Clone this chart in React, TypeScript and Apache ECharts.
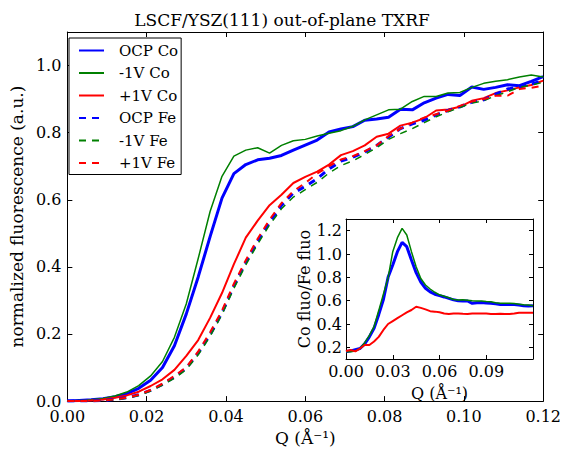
import React, { useEffect, useRef } from 'react';
import * as echarts from 'echarts';

// Shared Q grid (Å^-1)
const Q = [0, 0.003, 0.006, 0.009, 0.012, 0.015, 0.018, 0.021, 0.024, 0.027, 0.03, 0.033, 0.036, 0.039, 0.042, 0.045, 0.048, 0.051, 0.054, 0.057, 0.06, 0.063, 0.066, 0.069, 0.072, 0.075, 0.078, 0.081, 0.084, 0.087, 0.09, 0.093, 0.096, 0.099, 0.102, 0.105, 0.108, 0.111, 0.114, 0.117, 0.12];

// Main plot: normalized fluorescence
const ocpCo = [0, 0.002, 0.004, 0.007, 0.013, 0.022, 0.038, 0.062, 0.1, 0.165, 0.26, 0.37, 0.49, 0.605, 0.678, 0.705, 0.719, 0.724, 0.732, 0.748, 0.763, 0.778, 0.802, 0.811, 0.818, 0.837, 0.841, 0.846, 0.87, 0.868, 0.889, 0.903, 0.914, 0.911, 0.936, 0.929, 0.935, 0.943, 0.94, 0.953, 0.967];
const m1vCo = [0, 0.002, 0.004, 0.008, 0.015, 0.027, 0.046, 0.075, 0.118, 0.19, 0.29, 0.425, 0.565, 0.67, 0.73, 0.748, 0.755, 0.739, 0.762, 0.776, 0.78, 0.79, 0.798, 0.806, 0.819, 0.838, 0.853, 0.868, 0.87, 0.893, 0.908, 0.908, 0.918, 0.92, 0.935, 0.947, 0.953, 0.958, 0.966, 0.972, 0.966];
const p1vCo = [0, 0, 0.002, 0.005, 0.01, 0.017, 0.028, 0.045, 0.065, 0.093, 0.135, 0.182, 0.248, 0.322, 0.408, 0.487, 0.538, 0.584, 0.615, 0.65, 0.668, 0.684, 0.705, 0.733, 0.745, 0.762, 0.788, 0.797, 0.821, 0.83, 0.843, 0.866, 0.869, 0.877, 0.895, 0.903, 0.918, 0.926, 0.935, 0.942, 0.955];
const ocpFe = [0, 0, 0, 0.002, 0.005, 0.01, 0.019, 0.032, 0.05, 0.072, 0.098, 0.143, 0.198, 0.263, 0.343, 0.413, 0.476, 0.533, 0.583, 0.62, 0.64, 0.663, 0.692, 0.715, 0.727, 0.742, 0.762, 0.787, 0.812, 0.826, 0.837, 0.853, 0.866, 0.877, 0.891, 0.898, 0.915, 0.93, 0.937, 0.945, 0.955];
const m1vFe = [0, 0, 0, 0.002, 0.004, 0.009, 0.017, 0.03, 0.048, 0.068, 0.094, 0.138, 0.193, 0.258, 0.336, 0.406, 0.468, 0.525, 0.573, 0.608, 0.63, 0.652, 0.68, 0.702, 0.716, 0.735, 0.755, 0.78, 0.797, 0.812, 0.83, 0.847, 0.862, 0.875, 0.888, 0.895, 0.91, 0.922, 0.935, 0.942, 0.95];
const p1vFe = [0, 0, 0, 0.002, 0.005, 0.01, 0.019, 0.033, 0.052, 0.075, 0.101, 0.148, 0.205, 0.27, 0.35, 0.42, 0.484, 0.541, 0.59, 0.626, 0.65, 0.678, 0.7, 0.72, 0.73, 0.745, 0.762, 0.79, 0.812, 0.83, 0.845, 0.855, 0.866, 0.88, 0.893, 0.9, 0.91, 0.91, 0.93, 0.934, 0.94];

// Inset: Co fluo / Fe fluo
const ocpRatio = [0.163, 0.17, 0.18, 0.19, 0.23, 0.29, 0.363, 0.48, 0.61, 0.8, 0.906, 1.02, 1.1, 1.063, 0.948, 0.84, 0.76, 0.706, 0.675, 0.655, 0.643, 0.632, 0.62, 0.607, 0.6, 0.598, 0.597, 0.577, 0.583, 0.585, 0.58, 0.577, 0.573, 0.568, 0.568, 0.568, 0.568, 0.562, 0.556, 0.554, 0.557];
const m1vRatio = [0.163, 0.163, 0.168, 0.19, 0.24, 0.3, 0.377, 0.515, 0.656, 0.795, 1.02, 1.14, 1.22, 1.163, 1.02, 0.89, 0.79, 0.734, 0.7, 0.672, 0.65, 0.638, 0.625, 0.61, 0.605, 0.607, 0.604, 0.6, 0.597, 0.597, 0.592, 0.59, 0.583, 0.577, 0.578, 0.577, 0.575, 0.57, 0.565, 0.562, 0.557];
const p1vRatio = [0.168, 0.177, 0.165, 0.19, 0.22, 0.22, 0.25, 0.29, 0.349, 0.4, 0.425, 0.45, 0.475, 0.5, 0.52, 0.548, 0.538, 0.525, 0.51, 0.506, 0.5, 0.49, 0.486, 0.49, 0.491, 0.488, 0.486, 0.49, 0.49, 0.491, 0.489, 0.486, 0.486, 0.488, 0.486, 0.486, 0.49, 0.497, 0.497, 0.497, 0.497];

const mainXTicks = [0, 0.02, 0.04, 0.06, 0.08, 0.1, 0.12];
const mainYTicks = [0, 0.2, 0.4, 0.6, 0.8, 1.0];
const insetXTicks = [0, 0.03, 0.06, 0.09];
const insetYTicks = [0.2, 0.4, 0.6, 0.8, 1.0, 1.2];

const legendNames = ['OCP Co', '-1V Co', '+1V Co', 'OCP Fe', '-1V Fe', '+1V Fe'];

const BLUE = '#0000ff';
const GREEN = '#008000';
const RED = '#ff0000';
const SERIF = '"DejaVu Serif", serif';

const pair = (ys: number[]) => Q.map((q, i) => [q, ys[i]]);

export default function App() {
  const ref = useRef<HTMLDivElement>(null);
  useEffect(() => {
    if (!ref.current) return;
    const chart = echarts.init(ref.current, undefined, { renderer: 'svg' });
    const axLine = { show: true, onZero: false, lineStyle: { color: '#000', width: 1 } };
    const tick = (len: number, custom?: number[]) => ({
      show: true, inside: true, length: len, lineStyle: { color: '#000', width: 1 },
      ...(custom ? { customValues: custom } : {}),
    });
    const lbl = (size: number, digits: number, margin: number, custom?: number[]) => ({
      show: true, color: '#000', fontFamily: SERIF, fontSize: size, margin,
      formatter: (v: number) => v.toFixed(digits),
      ...(custom ? { customValues: custom } : {}),
    });
    const hidden = { show: false };
    const line = (name: string, ys: number[], color: string, width: number, dashed: boolean, xi: number, yi: number) => ({
      type: 'line', name, data: pair(ys), xAxisIndex: xi, yAxisIndex: yi,
      symbol: 'none', showSymbol: false, smooth: false,
      lineStyle: { color, width, type: dashed ? [7, 6] : 'solid' },
      itemStyle: { color },
    });
    chart.setOption({
      animation: false,
      backgroundColor: '#fff',
      title: {
        text: 'LSCF/YSZ(111) out-of-plane TXRF', left: 'center', top: 6,
        textStyle: { fontFamily: SERIF, fontSize: 17, fontWeight: 'normal', color: '#000' },
      },
      legend: {
        orient: 'vertical', left: 69, top: 38, data: legendNames,
        itemWidth: 25, itemHeight: 14, itemGap: 7.5,
        itemStyle: { opacity: 0 },
        padding: [5, 3, 4, 9],
        borderColor: '#000', borderWidth: 1, backgroundColor: '#fff',
        textStyle: { fontFamily: SERIF, fontSize: 15, lineHeight: 14, color: '#000', padding: [0, 0, 0, 10] },
      },
      grid: [
        { left: 63, right: 17, top: 32, bottom: 45, show: false },
        { left: 346, right: 31, top: 219, bottom: 92, show: true, backgroundColor: '#fff', borderWidth: 0 },
      ],
      xAxis: [
        {
          type: 'value', gridIndex: 0, position: 'bottom', min: 0, max: 0.12,
          axisLine: axLine, axisTick: tick(5, mainXTicks), axisLabel: lbl(16, 2, 7, mainXTicks), splitLine: hidden,
          name: 'Q (Å⁻¹)', nameLocation: 'middle', nameGap: 26,
          nameTextStyle: { fontFamily: SERIF, fontSize: 17, color: '#000' },
        },
        {
          type: 'value', gridIndex: 0, position: 'top', min: 0, max: 0.12,
          axisLine: axLine, axisTick: tick(5, mainXTicks), axisLabel: hidden, splitLine: hidden,
        },
        {
          type: 'value', gridIndex: 1, position: 'bottom', min: 0, max: 0.12,
          axisLine: axLine, axisTick: tick(4, insetXTicks), axisLabel: lbl(16, 2, 4, insetXTicks), splitLine: hidden,
          name: 'Q (Å⁻¹)', nameLocation: 'middle', nameGap: 26,
          nameTextStyle: { fontFamily: SERIF, fontSize: 16, color: '#000' },
        },
        {
          type: 'value', gridIndex: 1, position: 'top', min: 0, max: 0.12,
          axisLine: axLine, axisTick: tick(4, insetXTicks), axisLabel: hidden, splitLine: hidden,
        },
      ],
      yAxis: [
        {
          type: 'value', gridIndex: 0, position: 'left', min: 0, max: 1.1,
          axisLine: axLine, axisTick: tick(5, mainYTicks), axisLabel: lbl(16, 1, 6, mainYTicks), splitLine: hidden,
          name: 'normalized fluorescence (a.u.)', nameLocation: 'middle', nameGap: 38,
          nameTextStyle: { fontFamily: SERIF, fontSize: 17, color: '#000' },
        },
        {
          type: 'value', gridIndex: 0, position: 'right', min: 0, max: 1.1,
          axisLine: axLine, axisTick: tick(5, mainYTicks), axisLabel: hidden, splitLine: hidden,
        },
        {
          type: 'value', gridIndex: 1, position: 'left', min: 0.1, max: 1.3,
          axisLine: axLine, axisTick: tick(4, insetYTicks), axisLabel: lbl(16, 1, 4, insetYTicks), splitLine: hidden,
          name: 'Co fluo/Fe fluo', nameLocation: 'middle', nameGap: 34,
          nameTextStyle: { fontFamily: SERIF, fontSize: 16, color: '#000' },
        },
        {
          type: 'value', gridIndex: 1, position: 'right', min: 0.1, max: 1.3,
          axisLine: axLine, axisTick: tick(4, insetYTicks), axisLabel: hidden, splitLine: hidden,
        },
      ],
      series: [
        line('OCP Co', ocpCo, BLUE, 3, false, 0, 0),
        line('-1V Co', m1vCo, GREEN, 1.5, false, 0, 0),
        line('+1V Co', p1vCo, RED, 2, false, 0, 0),
        line('OCP Fe', ocpFe, BLUE, 3, true, 0, 0),
        line('-1V Fe', m1vFe, GREEN, 1.5, true, 0, 0),
        line('+1V Fe', p1vFe, RED, 2, true, 0, 0),
        line('OCP ratio', ocpRatio, BLUE, 3, false, 2, 2),
        line('-1V ratio', m1vRatio, GREEN, 1.5, false, 2, 2),
        line('+1V ratio', p1vRatio, RED, 2, false, 2, 2),
      ],
    });
    return () => chart.dispose();
  }, []);
  return <div ref={ref} style={{ position: 'fixed', left: 0, top: 0, width: 564, height: 451 }} />;
}
